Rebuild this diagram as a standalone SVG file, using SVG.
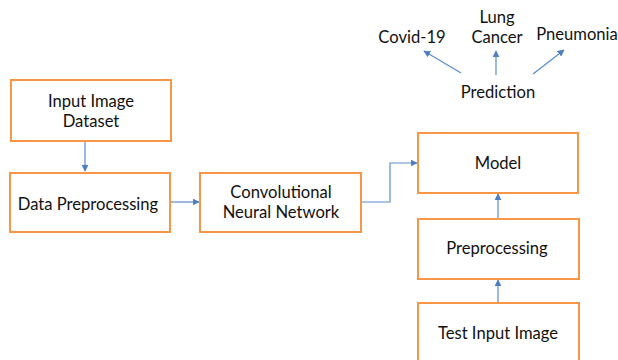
<svg xmlns="http://www.w3.org/2000/svg" width="618" height="360" viewBox="0 0 618 360">
<style>
.box{fill:#fff;stroke:#F79646;stroke-width:2}
text{font-family:Lato,"Open Sans",sans-serif;font-size:16.6px;fill:#111;text-anchor:middle}
.c{fill:none;stroke:#5B8BC9;stroke-width:1.2}
</style>
<defs>
<marker id="ah" viewBox="0 0 10 10" refX="9" refY="5" markerWidth="7" markerHeight="7" markerUnits="userSpaceOnUse" orient="auto"><path d="M0,0 L10,5 L0,10 z" fill="#4F7FC2"/></marker>
</defs>
<rect width="618" height="360" fill="#fff"/>
<g id="connectors">
<path class="c" d="M85,141 V171" marker-end="url(#ah)"/>
<path class="c" d="M170,202 H199" marker-end="url(#ah)"/>
<path class="c" d="M361,202 H390 V163 H417" marker-end="url(#ah)"/>
<path class="c" d="M498,218 V194" marker-end="url(#ah)"/>
<path class="c" d="M498,302 V280" marker-end="url(#ah)"/>
<path class="c" d="M461,73 L424,51" marker-end="url(#ah)"/>
<path class="c" d="M496,75 V51" marker-end="url(#ah)"/>
<path class="c" d="M533,74 L564,50" marker-end="url(#ah)"/>
</g>
<g id="input-dataset"><rect class="box" x="11" y="80" width="160" height="61"/><text x="91" y="107">Input Image</text><text x="91" y="127">Dataset</text></g>
<g id="data-preprocessing"><rect class="box" x="10" y="173" width="160" height="59"/><text x="88" y="210">Data Preprocessing</text></g>
<g id="cnn"><rect class="box" x="200" y="173" width="161" height="59"/><text x="281" y="198">Convolutional</text><text x="281" y="218">Neural Network</text></g>
<g id="model"><rect class="box" x="418" y="133" width="160" height="60"/><text x="498" y="169">Model</text></g>
<g id="preprocessing"><rect class="box" x="418" y="219" width="161" height="60"/><text x="497" y="254">Preprocessing</text></g>
<g id="test-input"><rect class="box" x="418" y="303" width="161" height="62"/><text x="498" y="339">Test Input Image</text></g>
<g id="prediction"><text x="498" y="98">Prediction</text></g>
<g id="covid"><text x="412" y="43">Covid-19</text></g>
<g id="lung-cancer"><text x="497" y="23">Lung</text><text x="497" y="43">Cancer</text></g>
<g id="pneumonia"><text x="577" y="40">Pneumonia</text></g>
</svg>
